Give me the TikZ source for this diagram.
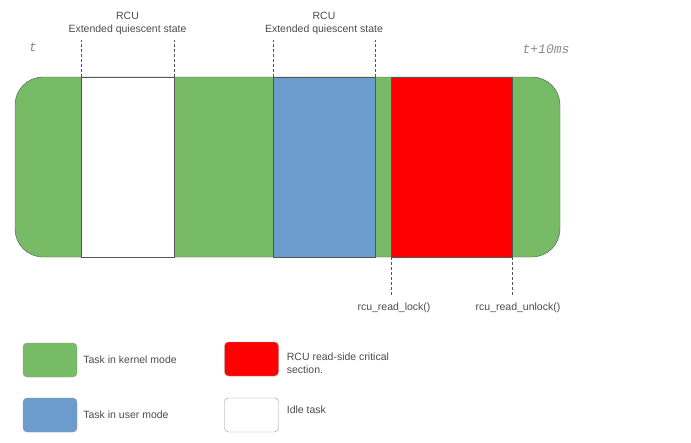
\documentclass[tikz,border=0pt]{standalone}
\usepackage{fontspec}
\setmainfont{Liberation Sans}
\setmonofont{Liberation Mono}
\usetikzlibrary{positioning}
\definecolor{kernelgreen}{RGB}{119,187,102}
\definecolor{userblue}{RGB}{108,155,206}
\definecolor{edgegray}{RGB}{85,85,85}
\definecolor{textgray}{RGB}{75,75,75}
\tikzset{
x=1pt, y=-1pt, % pixel like coordinates, y grows downwards
seg/.style={draw=edgegray, minimum height=180pt, inner sep=0pt, outer sep=0pt}, % one slice of the time bar
keybox/.style={draw=edgegray!60, rounded corners=4pt, minimum width=54pt, minimum height=34pt, inner sep=0pt},
guide/.style={draw=edgegray, dash pattern=on 3pt off 2pt}, % dashed marker lines
lbl/.style={text=textgray, font=\fontsize{10.5}{13}\selectfont, inner sep=0pt},
stamp/.style={text=textgray!65, font=\ttfamily\itshape\fontsize{13}{15}\selectfont, inner sep=0pt},
}
\begin{document}
\begin{tikzpicture}
    \useasboundingbox (0,0) rectangle (691,442);

    % the time bar
    \node[seg, fill=kernelgreen, rounded corners=28pt, minimum width=545pt] (bar) at (287.5,167) {};
    \node[seg, fill=white, minimum width=93pt] (idle) at (127.5,167) {};
    \node[seg, fill=userblue, minimum width=102pt] (user) at (324,167) {};
    \node[seg, fill=red, minimum width=121pt] (crit) at (451.5,167) {};

    \node[stamp] (start) at (33,47) {t};
    \node[stamp] (stop) at (546,49) {t+10ms};

    % quiescent states
    \draw[guide] (idle.north west) -- ++(0,-37);
    \draw[guide] (idle.north east) -- ++(0,-37);
    \draw[guide] (user.north west) -- ++(0,-37);
    \draw[guide] (user.north east) -- ++(0,-37);
    \node[lbl, align=center, above=42pt of idle.north] (qs1) {RCU\\Extended quiescent state};
    \node[lbl, align=center, above=42pt of user.north] (qs2) {RCU\\Extended quiescent state};

    % read-side critical section
    \draw[guide] (crit.south west) -- ++(0,38);
    \draw[guide] (crit.south east) -- ++(0,38);
    \node[lbl, below=46pt of crit.south west, xshift=3pt] (lock) {rcu\_read\_lock()};
    \node[lbl, below=46pt of crit.south east, xshift=6pt] (unlock) {rcu\_read\_unlock()};

    % legend
    \node[keybox, fill=kernelgreen] (kkernel) at (50,360) {};
    \node[keybox, fill=userblue] (kuser) at (50,415) {};
    \node[keybox, fill=red] (kcrit) at (251.5,359) {};
    \node[keybox, fill=white] (kidle) at (251.5,415) {};
    \node[lbl, right=6pt of kkernel] (tkernel) {Task in kernel mode};
    \node[lbl, right=6pt of kuser] (tuser) {Task in user mode};
    \node[lbl, align=left, anchor=north west] (tcrit) at ([xshift=8pt,yshift=6pt]kcrit.east) {RCU read-side critical\\section.};
    \node[lbl, right=8pt of kidle, yshift=5pt] (tidle) {Idle task};
\end{tikzpicture}
\end{document}
